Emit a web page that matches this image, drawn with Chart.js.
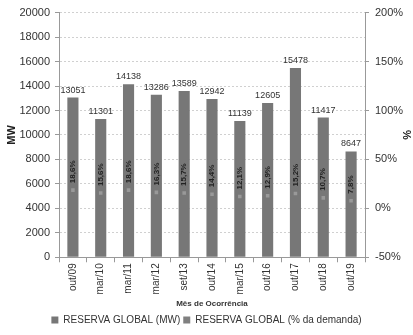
<!DOCTYPE html>
<html lang="pt">
<head>
<meta charset="UTF-8">
<title>Reserva Global</title>
<script src="https://cdn.jsdelivr.net/npm/chart.js"></script>
<style>
  html, body { margin: 0; padding: 0; background: #fff; }
  #wrap { width: 413px; height: 335px; }
</style>
</head>
<body>
<div id="wrap"><canvas id="grafico"></canvas></div>
<script>
// dados
const meses = ['out/09', 'mar/10', 'mar/11', 'mar/12', 'set/13', 'out/14', 'mar/15', 'out/16', 'out/17', 'out/18', 'out/19'];
const reservaMW = [13051, 11301, 14138, 13286, 13589, 12942, 11139, 12605, 15478, 11417, 8647];
const reservaPct = [18.6, 15.6, 18.6, 16.3, 15.7, 14.4, 12.1, 12.9, 15.2, 10.7, 7.8];

const fonte = "'Liberation Sans', Arial, sans-serif";

// rótulos: valor em cima da barra e % na vertical dentro da barra
const rotulos = {
    id: 'rotulos',
    afterDatasetsDraw(chart) {
        const ctx = chart.ctx;
        const barras = chart.getDatasetMeta(0).data;
        const pontos = chart.getDatasetMeta(1).data;
        ctx.save();
        ctx.fillStyle = '#333';
        ctx.font = '9px ' + fonte;
        ctx.textAlign = 'center';
        ctx.textBaseline = 'bottom';
        barras.forEach((b, i) => {
            ctx.fillText(reservaMW[i], b.x, b.y - 3);
        });
        ctx.font = 'bold 8px ' + fonte;
        pontos.forEach((p, i) => {
            ctx.save();
            ctx.translate(p.x, p.y - 7);
            ctx.rotate(-Math.PI / 2);
            ctx.textAlign = 'left';
            ctx.textBaseline = 'middle';
            ctx.fillStyle = '#222';
            ctx.fillText(reservaPct[i].toFixed(1).replace('.', ',') + '%', 0, 0);
            ctx.restore();
        });
        ctx.restore();
    }
};

new Chart(document.getElementById('grafico'), {
    data: {
        labels: meses,
        datasets: [
            {
                type: 'bar',
                label: 'RESERVA GLOBAL (MW)',
                data: reservaMW,
                backgroundColor: '#777777',
                yAxisID: 'y',
                barPercentage: 0.4,
                categoryPercentage: 1,
                order: 2
            },
            {
                type: 'line',
                label: 'RESERVA GLOBAL (% da demanda)',
                data: reservaPct,
                yAxisID: 'y1',
                showLine: false,
                pointStyle: 'rect',
                pointRadius: 2.5,
                pointBackgroundColor: '#999999',
                pointBorderWidth: 0,
                backgroundColor: '#808080',
                borderColor: '#808080',
                borderWidth: 0,
                order: 1
            }
        ]
    },
    options: {
        responsive: true,
        maintainAspectRatio: false,
        animation: false,
        layout: { padding: { top: 10, left: 0, right: 0, bottom: 0 } },
        plugins: {
            legend: {
                position: 'bottom',
                labels: {
                    boxWidth: 7,
                    boxHeight: 7,
                    padding: 3,
                    color: '#333',
                    font: { family: fonte, size: 10 },
                    sort: (a, b) => a.datasetIndex - b.datasetIndex
                }
            },
            tooltip: { enabled: false }
        },
        scales: {
            x: {
                grid: { offset: true, drawOnChartArea: false, drawTicks: true, tickLength: 5, color: '#999' },
                border: { color: '#999' },
                ticks: { minRotation: 90, maxRotation: 90, color: '#333', font: { family: fonte, size: 10 }, padding: 1 },
                title: { display: true, text: 'Mês de Ocorrência', color: '#333', font: { family: fonte, size: 8, weight: 'bold' }, padding: { top: 4, bottom: 3 } }
            },
            y: {
                position: 'left',
                min: 0,
                max: 20000,
                ticks: { stepSize: 2000, color: '#333', font: { family: fonte, size: 11 }, padding: 5, callback: v => String(v) },
                grid: { color: '#d0d0d0', tickLength: 4, tickColor: '#999' },
                border: { color: '#999', dash: [2, 2] },
                title: { display: true, text: 'MW', color: '#222', font: { family: fonte, size: 11, weight: 'bold' }, padding: 5 },
                afterFit(scale) { scale.width = 59; }
            },
            y1: {
                position: 'right',
                min: -50,
                max: 200,
                ticks: { stepSize: 50, color: '#333', font: { family: fonte, size: 11 }, padding: 6, callback: v => v + '%' },
                grid: { drawOnChartArea: false, tickLength: 4, color: '#999' },
                border: { color: '#999' },
                title: { display: true, text: '%', color: '#222', font: { family: fonte, size: 11, weight: 'bold' }, padding: 0 },
                afterFit(scale) { scale.width = 48; }
            }
        }
    },
    plugins: [rotulos]
});
</script>
</body>
</html>
